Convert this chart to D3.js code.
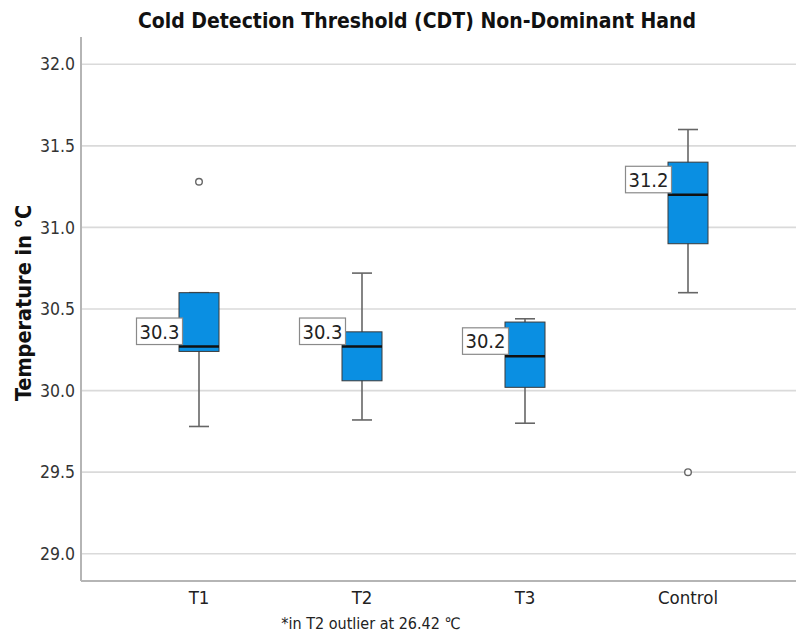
<!DOCTYPE html>
<html>
<head>
<meta charset="utf-8">
<script src="https://cdn.jsdelivr.net/npm/d3@7"></script>
<style>
  body { margin: 0; background: #fff; }
  svg { display: block; }
</style>
</head>
<body>
<div id="chart"></div>
<script>
// values
const categories = ["T1", "T2", "T3", "Control"];
const whiskerLow = [29.78, 29.82, 29.80, 30.60];
const q1 = [30.24, 30.06, 30.02, 30.90];
const median = [30.27, 30.27, 30.21, 31.20];
const q3 = [30.60, 30.36, 30.42, 31.40];
const whiskerHigh = [30.60, 30.72, 30.44, 31.60];
const outliers = [[31.28], [], [], [29.50]];
const medianLabels = ["30.3", "30.3", "30.2", "31.2"];
const yTicks = [29.0, 29.5, 30.0, 30.5, 31.0, 31.5, 32.0];

const width = 796, height = 636;
const font = "'DejaVu Sans Condensed', 'DejaVu Sans', sans-serif";
const boxW = 40, capW = 20;

const svg = d3.select("#chart").append("svg")
  .attr("width", width)
  .attr("height", height)
  .style("font-family", font);

const plot = {left: 81, right: 796, top: 37, bottom: 581};

const y = d3.scaleLinear()
  .domain([28.833, 32.167])
  .range([plot.bottom, plot.top]);

const x = d3.scaleBand()
  .domain(categories)
  .range([117.5, 769.5]);

const cx = c => x(c) + x.bandwidth() / 2;

// gridlines
svg.append("g")
  .selectAll("line")
  .data(yTicks)
  .join("line")
    .attr("x1", plot.left)
    .attr("x2", plot.right)
    .attr("y1", d => y(d))
    .attr("y2", d => y(d))
    .attr("stroke", "#dadada")
    .attr("stroke-width", 1.6);

// y axis (labels only, lines drawn by hand)
const yAxis = svg.append("g")
  .attr("transform", `translate(${plot.left},0)`)
  .call(d3.axisLeft(y).tickValues(yTicks).tickFormat(d3.format(".1f")).tickSize(0).tickPadding(6));
yAxis.select(".domain").remove();
yAxis.selectAll("text")
  .attr("font-size", 17.5)
  .attr("font-family", font)
  .attr("fill", "#333");

// x axis
const xAxis = svg.append("g")
  .attr("transform", `translate(0,${plot.bottom})`)
  .call(d3.axisBottom(x).tickSize(0).tickPadding(10));
xAxis.select(".domain").remove();
xAxis.selectAll("text")
  .attr("font-size", 18.5)
  .attr("font-family", font)
  .attr("fill", "#222");

// frame lines
svg.append("line")
  .attr("x1", plot.left).attr("x2", plot.left)
  .attr("y1", plot.top).attr("y2", plot.bottom)
  .attr("stroke", "#b5b5b5").attr("stroke-width", 2);
svg.append("line")
  .attr("x1", plot.left).attr("x2", plot.right)
  .attr("y1", plot.bottom).attr("y2", plot.bottom)
  .attr("stroke", "#b5b5b5").attr("stroke-width", 2);

// boxes
const boxes = svg.append("g")
  .selectAll("g")
  .data(categories)
  .join("g");

boxes.append("line") // whisker
  .attr("x1", cx).attr("x2", cx)
  .attr("y1", (d, i) => y(whiskerLow[i]))
  .attr("y2", (d, i) => y(whiskerHigh[i]))
  .attr("stroke", "#666").attr("stroke-width", 1.6);

boxes.selectAll("line.cap")
  .data((d, i) => [whiskerLow[i], whiskerHigh[i]].map(v => ({c: d, v})))
  .join("line")
    .attr("class", "cap")
    .attr("x1", d => cx(d.c) - capW / 2)
    .attr("x2", d => cx(d.c) + capW / 2)
    .attr("y1", d => y(d.v))
    .attr("y2", d => y(d.v))
    .attr("stroke", "#666").attr("stroke-width", 1.6);

boxes.append("rect")
  .attr("x", d => cx(d) - boxW / 2)
  .attr("width", boxW)
  .attr("y", (d, i) => y(q3[i]))
  .attr("height", (d, i) => y(q1[i]) - y(q3[i]))
  .attr("fill", "#0a8fe2")
  .attr("stroke", "#3a3a3a")
  .attr("stroke-width", 1);

boxes.append("line") // median
  .attr("x1", d => cx(d) - boxW / 2)
  .attr("x2", d => cx(d) + boxW / 2)
  .attr("y1", (d, i) => y(median[i]))
  .attr("y2", (d, i) => y(median[i]))
  .attr("stroke", "#111").attr("stroke-width", 2.4);

// outliers
boxes.selectAll("circle")
  .data((d, i) => outliers[i].map(v => ({c: d, v})))
  .join("circle")
    .attr("cx", d => cx(d.c))
    .attr("cy", d => y(d.v))
    .attr("r", 3.3)
    .attr("fill", "#fff")
    .attr("stroke", "#666")
    .attr("stroke-width", 1.4);

// median labels
const lab = boxes.append("g")
  .attr("transform", (d, i) => `translate(${cx(d) - boxW / 2 + 3.5},${y(median[i]) - 2})`);
lab.append("rect")
  .attr("x", -46).attr("y", -26.5)
  .attr("width", 46).attr("height", 26.5)
  .attr("fill", "#fff")
  .attr("stroke", "#8a8a8a")
  .attr("stroke-width", 1.2);
lab.append("text")
  .attr("x", -23).attr("y", -6)
  .attr("text-anchor", "middle")
  .attr("font-size", 20)
  .attr("fill", "#222")
  .text((d, i) => medianLabels[i]);

// title
svg.append("text")
  .attr("x", 417).attr("y", 28)
  .attr("text-anchor", "middle")
  .attr("font-size", 21)
  .attr("font-weight", "bold")
  .attr("fill", "#111")
  .text("Cold Detection Threshold (CDT) Non-Dominant Hand");

// y title
svg.append("text")
  .attr("transform", "translate(31,303) rotate(-90)")
  .attr("text-anchor", "middle")
  .attr("font-size", 21.5)
  .attr("font-weight", "bold")
  .attr("fill", "#111")
  .text("Temperature in ℃");

// footnote
svg.append("text")
  .attr("x", 371).attr("y", 629)
  .attr("text-anchor", "middle")
  .attr("font-size", 16)
  .attr("fill", "#222")
  .text("*in T2 outlier at 26.42 ℃");
</script>
</body>
</html>
